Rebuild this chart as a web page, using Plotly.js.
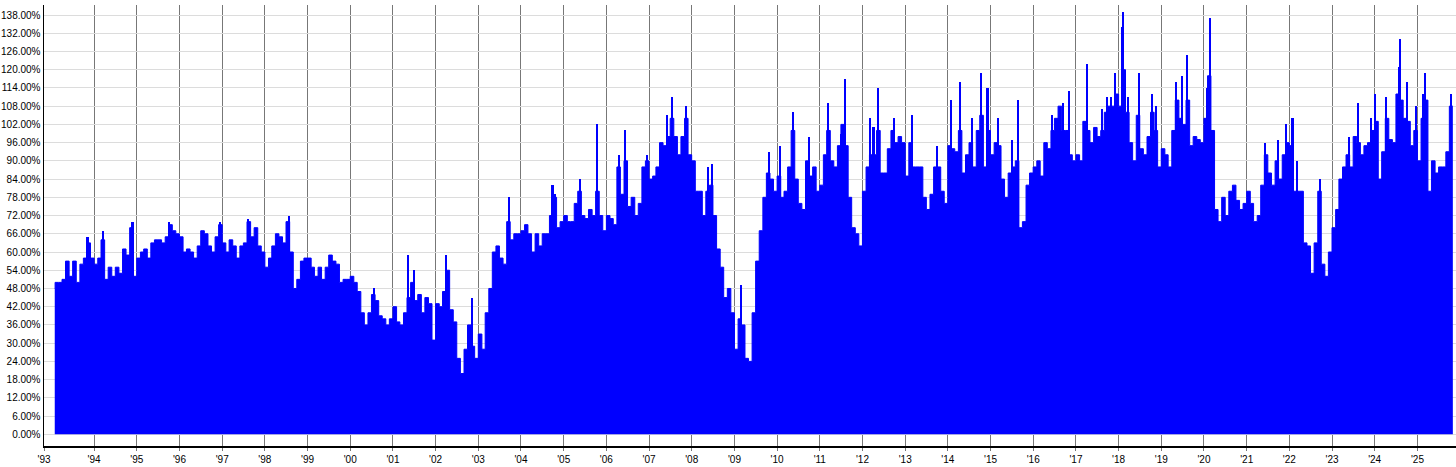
<!DOCTYPE html>
<html><head><meta charset="utf-8">
<script src="https://cdn.plot.ly/plotly-3.0.1.min.js"></script>
<style>html,body{margin:0;padding:0;background:#fff}#chart{width:1456px;height:467px}</style>
</head><body><div id="chart"></div>
<script>
// Monthly values (%), starting January 1993 (first trading day 1993-01-29)
const firstDate = '1993-01-29';
const lastDate = '2025-10-31';
const values1993_1999 = [
  48, 50, 50, 51, 57, 52, 57, 50, 56, 58, 63, 58,
  56, 58, 64, 51, 55, 52, 55, 53, 61, 59, 68, 52,
  58, 60, 61, 58, 63, 64, 64, 63, 65, 69, 67, 66,
  65, 60, 61, 60, 58, 62, 67, 66, 62, 60, 65, 69,
  63, 60, 64, 62, 58, 62, 63, 70, 65, 68, 62, 60,
  55, 58, 62, 66, 65, 63, 70, 60, 48, 51, 57, 58,
  58, 55, 52, 55, 51, 55, 59, 57, 56, 50, 51, 51
];
const values2000_2009 = [
  52, 50, 47, 40, 36, 40, 46, 44, 39, 38, 36, 38,
  42, 37, 36, 40, 45, 50, 44, 46, 40, 45, 43, 31,
  43, 42, 47, 54, 41, 37, 25, 20, 28, 36, 29, 25,
  33, 28, 40, 48, 60, 62, 58, 56, 70, 64, 66, 66,
  67, 69, 66, 60, 66, 62, 66, 66, 72, 78, 68, 70,
  72, 70, 70, 76, 80, 72, 71, 74, 72, 80, 72, 67,
  72, 71, 69, 88, 79, 90, 75, 78, 72, 76, 88, 90,
  84, 85, 88, 96, 95, 98, 104, 98, 92, 98, 104, 92,
  90, 80, 80, 72, 80, 82, 72, 61, 55, 45, 48, 40,
  28, 38, 36, 25, 24, 40, 57, 67, 78, 86, 84, 80
];
const values2010_2019 = [
  85, 78, 80, 88, 100, 84, 76, 74, 90, 85, 88, 80,
  82, 92, 100, 90, 88, 95, 102, 95, 78, 68, 66, 62,
  80, 88, 92, 92, 100, 86, 86, 94, 100, 96, 98, 96,
  85, 96, 88, 88, 88, 78, 74, 79, 88, 88, 80, 76,
  95, 94, 93, 100, 86, 92, 96, 88, 100, 105, 88, 100,
  92, 96, 95, 84, 78, 86, 88, 90, 68, 70, 82, 86,
  88, 90, 85, 96, 94, 100, 104, 108, 100, 100, 92, 90,
  92, 90, 103, 100, 96, 101, 98, 100, 106, 108, 108, 112,
  108, 120, 106, 96, 90, 105, 94, 92, 98, 106, 100, 88,
  94, 92, 88, 100, 110, 104, 102, 110, 95, 98, 97, 96
];
const values2020_2025 = [
  104, 118, 100, 74, 70, 78, 72, 80, 82, 77, 74, 76,
  80, 76, 70, 72, 82, 92, 86, 82, 90, 84, 92, 96,
  95, 80, 80, 80, 63, 62, 53, 63, 80, 56, 52, 60,
  68, 74, 84, 88, 92, 88, 98, 96, 92, 95, 96, 100,
  103, 84, 93, 104, 97, 96, 112, 110, 104, 103, 95, 100,
  90, 104, 110, 80, 90, 86, 88, 88, 93, 108
];
// Short-lived peaks (date, value %)
const peakDates = [
  '1993-11-05','1994-03-20','1994-11-25','1995-10-05','1996-12-15','1997-08-10','1998-07-23',
  '2000-07-24','2001-05-12','2001-06-28','2002-04-01','2002-11-05','2003-09-22','2004-09-27','2004-10-20',
  '2005-05-17','2005-10-12','2006-04-22','2006-06-10','2006-12-15','2007-06-05','2007-07-20','2007-11-15',
  '2008-05-22','2008-06-25','2009-03-01','2009-10-27','2010-01-27','2010-05-15','2010-10-01',
  '2011-03-12','2011-06-28','2011-08-03','2012-03-08','2012-04-05','2012-05-15','2012-09-28',
  '2013-03-01','2013-10-03','2014-01-30','2014-04-12','2014-07-27','2014-10-12','2014-12-06',
  '2015-03-08','2015-07-05','2015-08-22','2016-06-10','2016-09-10','2016-10-30',
  '2017-04-08','2017-08-10','2017-09-24','2017-10-30','2017-12-02',
  '2018-01-30','2018-02-10','2018-03-21','2018-06-21','2018-10-11','2018-11-18',
  '2019-05-05','2019-06-28','2019-08-08','2020-01-30','2020-02-25',
  '2021-06-07','2021-09-25','2021-12-02','2022-01-28','2022-03-05','2022-09-24',
  '2023-05-24','2023-08-08','2023-11-28','2024-01-03','2024-04-10','2024-07-24','2024-08-04',
  '2024-10-05','2024-12-20','2025-02-21','2025-03-10','2025-10-16'
];
const peakValues = [
  65, 67, 70, 70, 70, 71, 72,
  48, 59, 54, 59, 45, 78, 82, 79,
  84, 102, 92, 100, 92, 105, 111, 108,
  88, 89, 49, 93, 95, 106, 98,
  109, 99, 117, 104, 101, 114, 104,
  105, 95, 110, 116, 104, 119, 114,
  104, 97, 110, 105, 109, 113,
  122, 107, 111, 111, 119,
  134, 139, 111, 119, 112, 108,
  116, 118, 125, 114, 137,
  96, 97, 102, 104, 90, 84,
  98, 109, 104, 112, 111, 121, 130,
  116, 108, 112, 119, 112
];
const tickYears = [1993,1994,1995,1996,1997,1998,1999,2000,2001,2002,2003,2004,2005,2006,2007,2008,2009,2010,2011,2012,2013,2014,2015,2016,2017,2018,2019,2020,2021,2022,2023,2024,2025];
const tickLabels = ["'93","'94","'95","'96","'97","'98","'99","'00","'01","'02","'03","'04","'05","'06","'07","'08","'09","'10","'11","'12","'13","'14","'15","'16","'17","'18","'19","'20","'21","'22","'23","'24","'25"];
const yTicks = [0,6,12,18,24,30,36,42,48,54,60,66,72,78,84,90,96,102,108,114,120,126,132,138];

const xRange = ['1992-10-29', '2025-11-27'];

const values = [].concat(values1993_1999, values2000_2009, values2010_2019, values2020_2025);
const xs = [];
for (let i = 0; i < values.length; i++) {
  if (i === 0) { xs.push(firstDate); continue; }
  const y = 1993 + Math.floor(i / 12);
  const m = (i % 12) + 1;
  xs.push(y + '-' + String(m).padStart(2, '0') + '-01');
}
const ys = values.slice();
xs.push(lastDate);
ys.push(values[values.length - 1]);

const tickvals = tickYears.map((y, i) => i === 0 ? xRange[0] : y + '-01-01');

const trace = {
  type: 'scatter', mode: 'lines', x: xs, y: ys,
  line: {shape: 'hv', color: '#0000ff', width: 1},
  fill: 'tozeroy', fillcolor: '#0000ff', hoverinfo: 'skip'
};
const peaks = {
  type: 'bar', x: peakDates, y: peakValues,
  width: 18 * 86400000,
  marker: {color: '#0000ff', line: {width: 0}}, hoverinfo: 'skip'
};

const font = {family: 'Liberation Sans, Arial, sans-serif', size: 10, color: '#000'};
const layout = {
  width: 1456, height: 467,
  margin: {l: 44, r: 0, t: 5, b: 21, pad: 0},
  paper_bgcolor: '#fff', plot_bgcolor: '#fff',
  showlegend: false, bargap: 0,
  xaxis: {
    type: 'date', range: xRange, tickmode: 'array', tickvals: tickvals, ticktext: tickLabels,
    showgrid: true, gridcolor: '#777777', gridwidth: 1,
    ticks: 'outside', ticklen: 3, tickcolor: '#777777', tickwidth: 1,
    showline: true, linecolor: '#000', linewidth: 1.5,
    tickfont: font, zeroline: false, fixedrange: true
  },
  yaxis: {
    range: [-3.85, 141.3], tickmode: 'array', tickvals: yTicks,
    ticktext: yTicks.map(v => v.toFixed(2) + '%'),
    showgrid: true, gridcolor: '#dcdcdc', gridwidth: 1,
    showline: true, linecolor: '#000', linewidth: 1.5,
    ticks: '', tickfont: font, zeroline: false, fixedrange: true
  }
};
Plotly.newPlot('chart', [trace, peaks], layout, {displayModeBar: false, staticPlot: true});
</script>
</body></html>
